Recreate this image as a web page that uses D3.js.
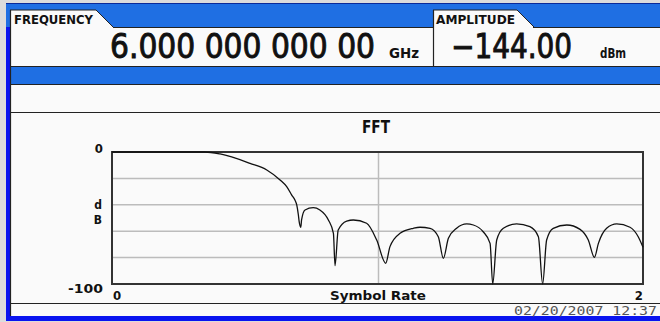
<!DOCTYPE html>
<html><head><meta charset="utf-8">
<script src="https://cdn.jsdelivr.net/npm/d3@7"></script>
<style>
html,body{margin:0;padding:0;background:#dcdcdc;}
svg{display:block;}
</style></head>
<body>
<svg id="c" width="660" height="322"></svg>
<script>
// ---- data ----
const symbolRate = [0, 0.35, 0.407, 0.52, 0.583, 0.633, 0.658, 0.677, 0.689, 0.696, 0.702, 0.705, 0.711,
  0.714, 0.727, 0.758, 0.783, 0.815, 0.834, 0.840,
  0.852, 0.884, 0.909, 0.959, 0.997, 1.031,
  1.047, 1.085, 1.135, 1.160, 1.198, 1.229, 1.248,
  1.267, 1.298, 1.336, 1.361, 1.398, 1.424, 1.434,
  1.449, 1.474, 1.524, 1.574, 1.606, 1.622,
  1.637, 1.662, 1.713, 1.763, 1.794, 1.817,
  1.832, 1.863, 1.901, 1.951, 1.982, 2.0];
const magnitudeDb = [0, 0, -1.5, -8.6, -13.6, -21.2, -26.3, -32.6, -36.4, -40.2, -47.7, -52.8, -57.0,
  -51.5, -43.9, -42.2, -43.9, -51.5, -61.6, -86.1,
  -59.1, -52.3, -51.5, -54.0, -66.7, -84.3,
  -71.7, -61.6, -57.8, -57.0, -57.8, -64.2, -80.5,
  -65.4, -57.8, -54.5, -55.3, -60.4, -69.2, -100,
  -66.7, -57.8, -54.5, -56.6, -64.2, -100,
  -66.7, -57.8, -55.3, -58.6, -66.7, -79.8,
  -69.2, -57.8, -54.5, -57.0, -64.2, -72.2];
const yTickLabels = ["0", "-100"];
const xTickLabels = ["0", "2"];
const yGridValues = [-80, -60, -40, -20];
const xGridValues = [1];
const chartTitle = "FFT";
const xTitle = "Symbol Rate";
const yTitle = ["d", "B"];
const freqLabel = "FREQUENCY";
const freqValue = "6.000 000 000 00";
const freqUnit = "GHz";
const ampLabel = "AMPLITUDE";
const ampValue = "\u2212144.00";
const ampUnit = "dBm";
const timestamp = "02/20/2007 12:37";

// ---- drawing ----
const svg = d3.select("#c");
const W = 660, H = 322;
const BLUE = "#1f6fe3", BORDER = "#0a14f0", WHITE = "#fafafa";
const bold = "'DejaVu Sans Condensed','DejaVu Sans',sans-serif";

svg.append("rect").attr("x",0).attr("y",0).attr("width",W).attr("height",H).attr("fill","#dcdcdc");
// outer blue frame
svg.append("rect").attr("x",6).attr("y",3).attr("width",W-6).attr("height",318).attr("fill",BORDER);
svg.append("rect").attr("x",6).attr("y",4).attr("width",W-6).attr("height",23).attr("fill",BLUE);
svg.append("line").attr("x1",6).attr("x2",W).attr("y1",3.5).attr("y2",3.5).attr("stroke","#0a2a9a");
// main white area
svg.append("rect").attr("x",10).attr("y",27).attr("width",W-10).attr("height",289).attr("fill",WHITE);
// blue band
svg.append("rect").attr("x",10).attr("y",66).attr("width",W-10).attr("height",18).attr("fill",BLUE);

// tabs
function tab(x0, x1) {
  svg.append("path")
    .attr("d", `M${x0},27 L${x0},10 L${x1},10 L${x1+17},27 Z`)
    .attr("fill", WHITE);
  svg.append("path")
    .attr("d", `M${x0},10 L${x1},10 L${x1+17},27`)
    .attr("fill","none").attr("stroke","#222").attr("stroke-width",1);
}
tab(10, 96);
tab(433, 517);

const lines = [
  [113,27,433,27],[533,27,W,27],
  [10,66,W,66],[10,84,W,84],[10,112,W,112],[10,303,W,303]
];
svg.selectAll("line.sep").data(lines).join("line").attr("class","sep")
  .attr("x1",d=>d[0]).attr("y1",d=>d[1]+0.5).attr("x2",d=>d[2]).attr("y2",d=>d[3]+0.5)
  .attr("stroke","#222").attr("stroke-width",1.2);
svg.append("line").attr("x1",10.5).attr("x2",10.5).attr("y1",10).attr("y2",316).attr("stroke","#222").attr("stroke-width",1.2);
svg.append("line").attr("x1",433.5).attr("x2",433.5).attr("y1",10).attr("y2",66).attr("stroke","#222").attr("stroke-width",1.2);

function txt(s, x, y, size, opts={}) {
  const t = svg.append("text").text(s)
    .attr("font-size",size).attr("font-family",opts.family||bold)
    .attr("font-weight",opts.weight||"bold").attr("fill",opts.fill||"#111")
    .attr("text-anchor",opts.anchor||"start");
  if (opts.sy) t.attr("transform",`translate(${x},${y}) scale(1,${opts.sy})`);
  else t.attr("x",x).attr("y",y);
  if (opts.len) t.attr("textLength",opts.len).attr("lengthAdjust","spacingAndGlyphs");
  if (opts.stroke) t.attr("stroke",opts.fill||"#111").attr("stroke-width",opts.stroke);
  return t;
}
txt(freqLabel, 14, 24, 12, {len:79});
txt(ampLabel, 436, 24, 12, {len:79});
txt(freqValue, 110, 58, 27, {weight:"normal", family:"'DejaVu Sans',sans-serif", len:265, stroke:0.8, sy:1.24});
txt(freqUnit, 389, 58, 14, {len:30});
txt(ampValue, 451, 58, 27, {weight:"normal", family:"'DejaVu Sans',sans-serif", len:121, stroke:0.8, sy:1.24});
txt(ampUnit, 600, 58, 14, {len:26});

// ---- chart ----
const x = d3.scaleLinear().domain([0,2]).range([112,643]);
const y = d3.scaleLinear().domain([-100,0]).range([284,152]);

svg.append("g").selectAll("line").data(yGridValues).join("line")
  .attr("x1",x(0)).attr("x2",x(2)).attr("y1",d=>y(d)).attr("y2",d=>y(d))
  .attr("stroke","#bcbcbc").attr("stroke-width",1.5);
svg.append("g").selectAll("line").data(xGridValues).join("line")
  .attr("x1",d=>x(d)+1).attr("x2",d=>x(d)+1).attr("y1",y(0)).attr("y2",y(-100))
  .attr("stroke","#bcbcbc").attr("stroke-width",1.5);
svg.append("rect").attr("x",x(0)).attr("y",y(0)).attr("width",x(2)-x(0)).attr("height",y(-100)-y(0))
  .attr("fill","none").attr("stroke","#333").attr("stroke-width",2);

const pts = symbolRate.map((s,i)=>[s, magnitudeDb[i]]);
const line = d3.line().x(d=>x(d[0])).y(d=>y(d[1])).curve(d3.curveMonotoneX);
svg.append("path").datum(pts).attr("d",line).attr("fill","none")
  .attr("stroke","#111").attr("stroke-width",1.3);

txt(chartTitle, 376, 133, 18, {anchor:"middle", len:28});
txt(yTickLabels[0], 103, 153, 13, {anchor:"end"});
txt(yTickLabels[1], 103, 293, 13, {anchor:"end", len:35});
txt(yTitle[0], 102, 209, 12, {anchor:"end"});
txt(yTitle[1], 102, 223.5, 12, {anchor:"end"});
txt(xTickLabels[0], 113, 300, 13);
txt(xTickLabels[1], 643, 300, 13, {anchor:"end"});
txt(xTitle, 378, 300, 13, {anchor:"middle", len:96});

// bottom status
svg.append("rect").attr("x",10).attr("y",316).attr("width",W-10).attr("height",4).attr("fill",BORDER);
txt(timestamp, 657, 315, 13, {anchor:"end", weight:"normal", family:"'DejaVu Sans Mono',monospace", fill:"#555", len:143});
</script>
</body></html>
